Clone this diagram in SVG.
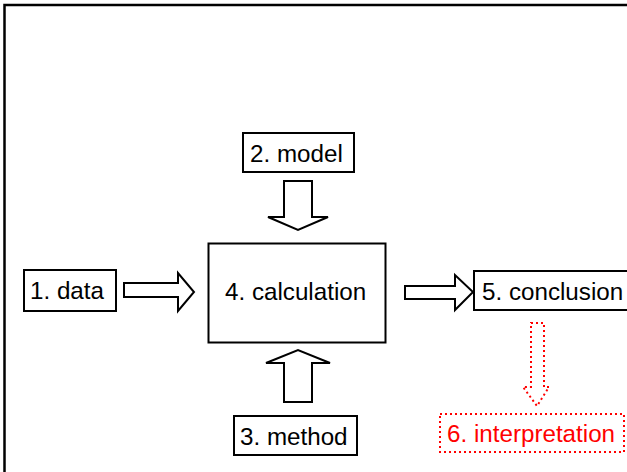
<svg xmlns="http://www.w3.org/2000/svg" width="627" height="472" viewBox="0 0 627 472">
<style>
.box{fill:#fff;stroke:#000;stroke-width:2}
.arr{fill:#fff;stroke:#000;stroke-width:2;stroke-linejoin:miter}
.t{font-family:"Liberation Sans",Arial,sans-serif;font-size:24.2px;fill:#000}
.red{fill:#f00}
.dot{fill:none;stroke:#f00;stroke-width:2;stroke-dasharray:2,3}
</style>
<rect width="627" height="472" fill="#fff"/>
<rect id="frame" x="4.5" y="5" width="640" height="490" fill="none" stroke="#000" stroke-width="2.5"/>
<g id="connectors">
<polygon class="arr" points="124,283 178,283 178,273 194,292 178,311 178,297 124,297"/>
<polygon class="arr" points="284,181 312,181 312,217 328,217 298,230 268,217 284,217"/>
<polygon class="arr" points="284,402 312,402 312,363 330,363 298,350 266,363 284,363"/>
<polygon class="arr" points="405,286 455,286 455,275 473,292 455,310 455,299 405,299"/>
<polygon class="dot" points="531,323 544,323 544,387 549,387 537,406 523,387 531,387"/>
</g>
<g id="data"><rect class="box" x="24" y="270" width="92" height="41"/><text class="t" x="30" y="299">1. data</text></g>
<g id="model"><rect class="box" x="243" y="133" width="111" height="39"/><text class="t" x="250" y="162">2. model</text></g>
<g id="method"><rect class="box" x="234" y="416" width="123" height="39"/><text class="t" x="240" y="445">3. method</text></g>
<g id="calculation"><rect class="box" x="208.5" y="243.5" width="177" height="99"/><text class="t" x="225" y="300">4. calculation</text></g>
<g id="conclusion"><rect class="box" x="474" y="271" width="160" height="39"/><text class="t" x="482" y="300">5. conclusion</text></g>
<g id="interpretation"><rect class="dot" x="440" y="414" width="184" height="38"/><text class="t red" x="447" y="442">6. interpretation</text></g>
</svg>
